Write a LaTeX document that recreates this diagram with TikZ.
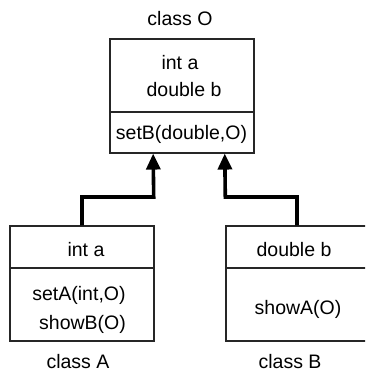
\documentclass[tikz,border=0pt]{standalone}
\usepackage{fontspec}
\setmainfont{Liberation Sans}
\usetikzlibrary{arrows.meta}
\begin{document}
\begin{tikzpicture}[x=1pt,y=1pt,
  classbox/.style={draw=black!85,line width=1.1pt,rectangle,inner sep=0pt},
  divider/.style={draw=black!85,line width=1.1pt},
  txt/.style={inner sep=0pt,anchor=base,font=\fontsize{19.5}{22}\selectfont},
  inherit/.style={line width=3.6pt,line join=miter,-{Triangle[width=14pt,length=16pt]}}]
  \useasboundingbox (0,0) rectangle (365,-371);
  \clip (0,0) rectangle (365,-371);

  % class O
  \node[classbox,minimum width=144pt,minimum height=114pt] (O) at (182,-96) {};
  \draw[divider] (110,-112) -- (254,-112);
  \node[txt] (Oname) at (180,-26) {class O};
  \node[txt] (Oa) at (180,-70) {int a};
  \node[txt] (Ob) at (184,-97) {double b};
  \node[txt] (Om) at (181.5,-140) {setB(double,O)};

  % class A
  \node[classbox,minimum width=144pt,minimum height=115pt] (A) at (82,-283.5) {};
  \draw[divider] (10,-268) -- (154,-268);
  \node[txt] (Aa) at (86,-256) {int a};
  \node[txt] (Am1) at (79,-300) {setA(int,O)};
  \node[txt] (Am2) at (82.5,-329) {showB(O)};
  \node[txt] (Aname) at (78,-368) {class A};

  % class B
  \node[classbox,minimum width=142pt,minimum height=115pt] (B) at (297,-283.5) {};
  \draw[divider] (226,-268) -- (368,-268);
  \node[txt] (Ba) at (294,-256) {double b};
  \node[txt] (Bm) at (298,-314) {showA(O)};
  \node[txt] (Bname) at (290,-368) {class B};

  % inheritance connectors
  \coordinate (OA) at ([xshift=43.7pt]O.south west);
  \coordinate (OB) at ([xshift=115.3pt]O.south west);
  \draw[inherit] (A.north) |- (153.7,-197) -- (OA);
  \draw[inherit] (B.north) |- (225.3,-197) -- (OB);
\end{tikzpicture}
\end{document}
